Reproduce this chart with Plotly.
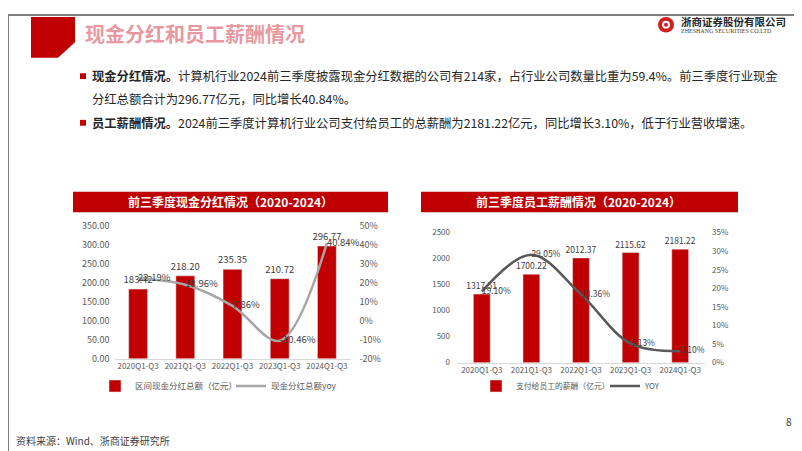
import plotly.graph_objects as go

# ---------------- data ----------------
categories = ["2020Q1-Q3", "2021Q1-Q3", "2022Q1-Q3", "2023Q1-Q3", "2024Q1-Q3"]
dividend_total = [183.42, 218.20, 235.35, 210.72, 296.77]
dividend_yoy = [0.2219, 0.1896, 0.0786, -0.1046, 0.4084]
salary_total = [1317.51, 1700.22, 2012.37, 2115.62, 2181.22]
salary_yoy = [0.1910, 0.2905, 0.1836, 0.0513, 0.0310]

div_right_ticks = [-0.2, -0.1, 0.0, 0.1, 0.2, 0.3, 0.4, 0.5]
div_right_labels = ["-20%", "-10%", "0%", "10%", "20%", "30%", "40%", "50%"]

W, H = 802, 451
FONT = "Noto Sans CJK SC"
RED = "#c00000"


def px(x):
    return x / W


def py(y):
    return 1 - y / H


fig = go.Figure()

# chart 1
fig.add_trace(go.Bar(
    x=categories, y=dividend_total, xaxis="x", yaxis="y",
    marker_color=RED, width=0.4,
    texttemplate="%{y:.2f}", textposition="outside", constraintext="none",
    textfont=dict(size=9.5, color="#404040"), cliponaxis=False,
    name="区间现金分红总额（亿元）", legend="legend",
))
fig.add_trace(go.Scatter(
    x=categories, y=dividend_yoy, xaxis="x", yaxis="y2",
    mode="lines+text", line=dict(color="#a6a6a6", width=2.5, shape="spline", smoothing=1),
    texttemplate="%{y:.2%}", textposition="middle right",
    textfont=dict(size=9.5, color="#404040"), cliponaxis=False,
    name="现金分红总额yoy", legend="legend",
))

# chart 2
fig.add_trace(go.Bar(
    x=categories, y=salary_total, xaxis="x2", yaxis="y3",
    marker_color=RED, width=0.34,
    texttemplate="%{y:.2f}", textposition="outside", constraintext="none",
    textfont=dict(size=8.5, color="#404040"), cliponaxis=False,
    name="支付给员工的薪酬（亿元）", legend="legend2",
))
fig.add_trace(go.Scatter(
    x=categories, y=salary_yoy, xaxis="x2", yaxis="y4",
    mode="lines+text", line=dict(color="#595959", width=2.5, shape="spline", smoothing=1),
    texttemplate="%{y:.2%}", textposition="middle right",
    textfont=dict(size=8.5, color="#404040"), cliponaxis=False,
    name="YOY", legend="legend2",
))

tick1 = dict(size=9, color="#595959")
tick2 = dict(size=8, color="#595959")

fig.update_layout(
    width=W, height=H, margin=dict(l=0, r=0, t=0, b=0),
    paper_bgcolor="white", plot_bgcolor="rgba(0,0,0,0)",
    font=dict(family=FONT, color="#404040"),
    xaxis=dict(domain=[px(106.5), px(342.5)], anchor="y", showline=True, linecolor="#d9d9d9",
               linewidth=1, ticks="", tickfont=dict(size=8, color="#595959"), showgrid=False),
    yaxis=dict(domain=[py(354), py(217)], anchor="x", range=[0, 350], dtick=50, tickformat=".2f",
               showgrid=False, zeroline=False, tickfont=tick1, ticklabelstandoff=4),
    yaxis2=dict(overlaying="y", side="right", anchor="x", range=[-0.2, 0.5],
                tickvals=div_right_ticks, ticktext=div_right_labels,
                showgrid=False, zeroline=False, tickfont=tick1, ticklabelstandoff=8),
    xaxis2=dict(domain=[px(449), px(697)], anchor="y3", showline=True, linecolor="#d9d9d9",
                linewidth=1, ticks="", tickfont=dict(size=8, color="#595959"), showgrid=False),
    yaxis3=dict(domain=[py(358), py(224)], anchor="x2", range=[0, 2500], dtick=500,
                showgrid=False, zeroline=False, tickfont=tick2, ticklabelstandoff=6),
    yaxis4=dict(overlaying="y3", side="right", anchor="x2", range=[0, 0.35], dtick=0.05,
                tickformat=".0%", showgrid=False, zeroline=False, tickfont=tick2,
                ticklabelstandoff=6),
    legend=dict(orientation="h", x=px(87), y=py(382), xanchor="left", yanchor="middle",
                font=dict(size=8.5, color="#595959"), bgcolor="rgba(0,0,0,0)",
                entrywidth=91, entrywidthmode="pixels"),
    legend2=dict(orientation="h", x=px(468), y=py(382), xanchor="left", yanchor="middle",
                 font=dict(size=7.8, color="#595959"), bgcolor="rgba(0,0,0,0)",
                 entrywidth=84, entrywidthmode="pixels"),
)

shapes = [
    # frame
    dict(type="rect", xref="paper", yref="paper", x0=0, y0=0, x1=1, y1=1,
         line=dict(color="#7f7f7f", width=2), layer="above"),
    # top-left red block with cut corner
    dict(type="path", xref="paper", yref="paper",
         path=f"M {px(23)} {py(2)} L {px(67)} {py(2)} L {px(67)} {py(28)} L {px(50)} {py(44)} L {px(23)} {py(44)} Z",
         fillcolor=RED, line=dict(width=0)),
    # logo icon
    dict(type="circle", xref="paper", yref="paper", x0=px(650), x1=px(666), y0=py(18), y1=py(2),
         fillcolor="#d01f1f", line=dict(width=0)),
    dict(type="circle", xref="paper", yref="paper", x0=px(654), x1=px(662), y0=py(14), y1=py(6),
         fillcolor="white", line=dict(width=0)),
    dict(type="circle", xref="paper", yref="paper", x0=px(656), x1=px(660), y0=py(12), y1=py(8),
         fillcolor="#d01f1f", line=dict(width=0)),
    # bullets
    dict(type="rect", xref="paper", yref="paper", x0=px(72), x1=px(78), y0=py(66), y1=py(60),
         fillcolor=RED, line=dict(width=0)),
    dict(type="rect", xref="paper", yref="paper", x0=px(72), x1=px(78), y0=py(114), y1=py(108),
         fillcolor=RED, line=dict(width=0)),
    # chart banners
    dict(type="rect", xref="paper", yref="paper", x0=px(65), x1=px(380), y0=py(203), y1=py(182),
         fillcolor=RED, line=dict(width=0)),
    dict(type="rect", xref="paper", yref="paper", x0=px(413), x1=px(730), y0=py(203), y1=py(182),
         fillcolor=RED, line=dict(width=0)),
]

annotations = [
    dict(text="<b>现金分红和员工薪酬情况</b>", x=px(75), y=py(19), xanchor="left", yanchor="middle",
         font=dict(size=20, color="#e8989f")),
    dict(text="<b>浙商证券股份有限公司</b>", x=px(671), y=py(7), xanchor="left", yanchor="middle",
         font=dict(size=10.5, color="#262626")),
    dict(text="ZHESHANG SECURITIES CO.LTD", x=px(671), y=py(16), xanchor="left", yanchor="middle",
         font=dict(size=6, color="#404040", family="Liberation Serif")),
    dict(text="<b>现金分红情况。</b>计算机行业2024前三季度披露现金分红数据的公司有214家，占行业公司数量比重为59.4%。前三季度行业现金",
         x=px(82), y=py(63), xanchor="left", yanchor="middle", font=dict(size=12.3, color="#262626")),
    dict(text="分红总额合计为296.77亿元，同比增长40.84%。",
         x=px(82), y=py(87), xanchor="left", yanchor="middle", font=dict(size=12.3, color="#262626")),
    dict(text="<b>员工薪酬情况。</b>2024前三季度计算机行业公司支付给员工的总薪酬为2181.22亿元，同比增长3.10%，低于行业营收增速。",
         x=px(82), y=py(111), xanchor="left", yanchor="middle", font=dict(size=12.3, color="#262626")),
    dict(text="<b>前三季度现金分红情况（2020-2024）</b>", x=px(222), y=py(192.5), xanchor="center",
         yanchor="middle", font=dict(size=12, color="white")),
    dict(text="<b>前三季度员工薪酬情况（2020-2024）</b>", x=px(570), y=py(192.5), xanchor="center",
         yanchor="middle", font=dict(size=12, color="white")),
    dict(text="8", x=px(781), y=py(419), xanchor="center", yanchor="middle",
         font=dict(size=10, color="#404040")),
    dict(text="资料来源：Wind、浙商证券研究所", x=px(6), y=py(438), xanchor="left", yanchor="middle",
         font=dict(size=10, color="#404040")),
]
for a in annotations:
    a.update(xref="paper", yref="paper", showarrow=False)

fig.update_layout(shapes=shapes, annotations=annotations)

fig.write_html("out.html")
